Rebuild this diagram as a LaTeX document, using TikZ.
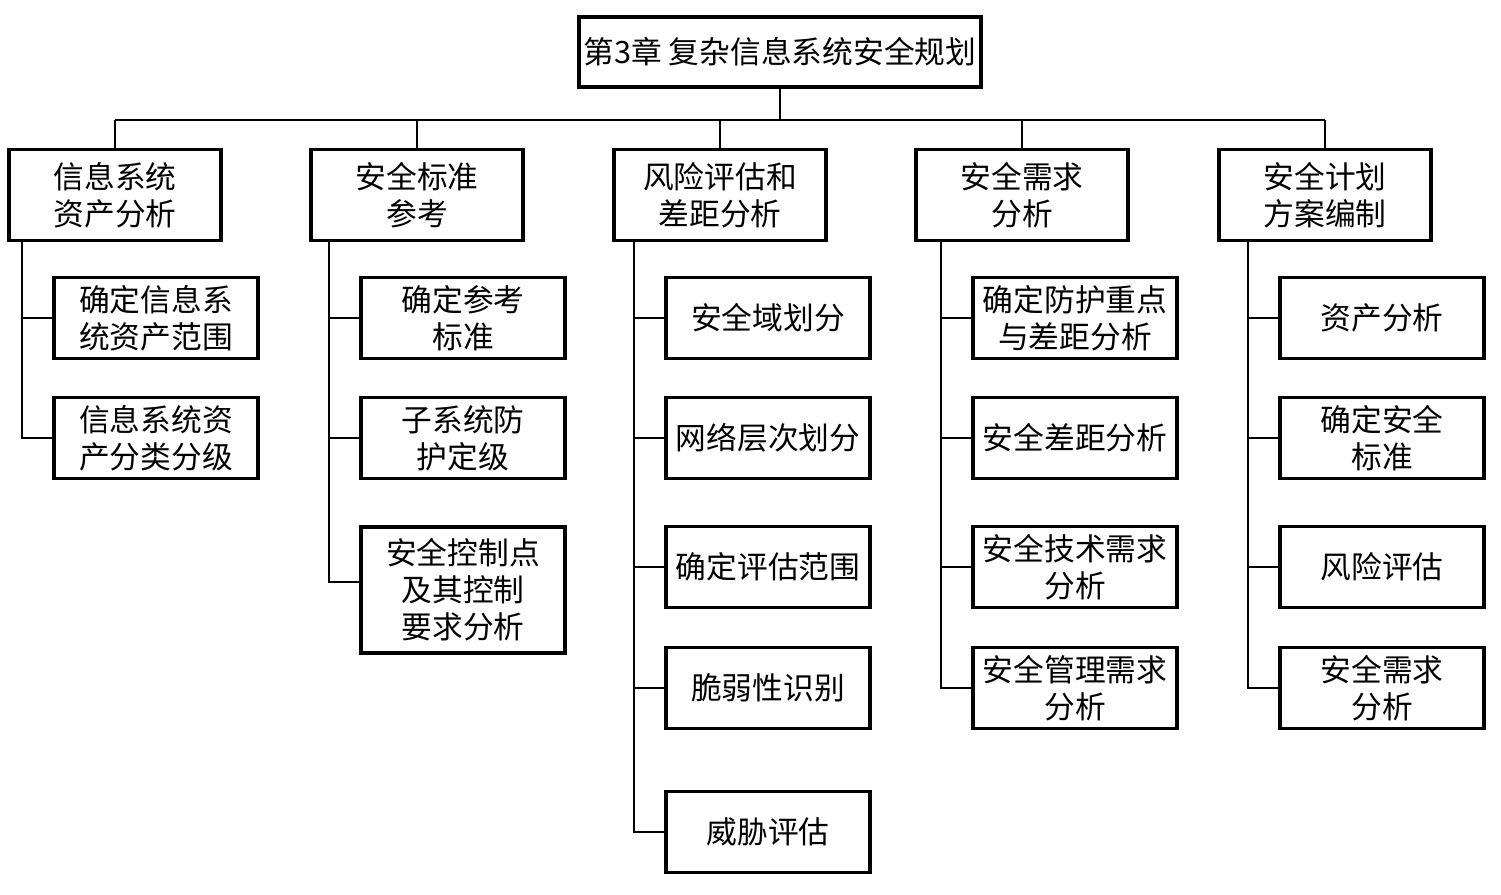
\documentclass[tikz,border=0pt]{standalone}
\usepackage{fontspec}
\setmainfont{Noto Sans CJK SC}
\usepackage{tikz}
\usetikzlibrary{calc}
\tikzset{
  rootbox/.style={draw, line width=2pt, minimum width=8.04cm, minimum height=1.4cm, inner sep=0pt},
  headbox/.style={draw, line width=2pt, minimum width=4.24cm, minimum height=1.82cm, inner sep=0pt, align=center},
  leafbox/.style={draw, line width=2pt, minimum width=4.08cm, minimum height=1.62cm, inner sep=0pt, align=center},
  tallbox/.style={leafbox, minimum height=2.52cm},
  link/.style={line width=1.1pt},
}
\begin{document}
\begin{tikzpicture}[x=0.02cm, y=-0.02cm, font=\fontsize{17.5}{21}\selectfont]
\useasboundingbox (0,0) rectangle (1501,895);

% top
\node[rootbox] (root) at (780,52) {第3章 复杂信息系统安全规划};

% second level
\node[headbox] (A) at (115,195) {信息系统\\资产分析};
\node[headbox] (B) at (417,195) {安全标准\\参考};
\node[headbox] (C) at (720,195) {风险评估和\\差距分析};
\node[headbox] (D) at (1022,195) {安全需求\\分析};
\node[headbox] (E) at (1325,195) {安全计划\\方案编制};

\coordinate (bus) at (780,120);
\draw[link] (root.south) -- (bus);
\draw[link] (bus -| A.north) -- (bus -| E.north);
\foreach \p in {A,B,C,D,E}
  \draw[link] (bus -| \p.north) -- (\p.north);

% leaves
\node[leafbox] (a1) at (156,318) {确定信息系\\统资产范围};
\node[leafbox] (a2) at (156,438) {信息系统资\\产分类分级};

\node[leafbox] (b1) at (463,318) {确定参考\\标准};
\node[leafbox] (b2) at (463,438) {子系统防\\护定级};
\node[tallbox] (b3) at (463,590) {安全控制点\\及其控制\\要求分析};

\node[leafbox] (c1) at (768,318) {安全域划分};
\node[leafbox] (c2) at (768,438) {网络层次划分};
\node[leafbox] (c3) at (768,567) {确定评估范围};
\node[leafbox] (c4) at (768,688) {脆弱性识别};
\node[leafbox] (c5) at (768,832) {威胁评估};

\node[leafbox] (d1) at (1075,318) {确定防护重点\\与差距分析};
\node[leafbox] (d2) at (1075,438) {安全差距分析};
\node[leafbox] (d3) at (1075,567) {安全技术需求\\分析};
\node[leafbox] (d4) at (1075,688) {安全管理需求\\分析};

\node[leafbox] (e1) at (1382,318) {资产分析};
\node[leafbox] (e2) at (1382,438) {确定安全\\标准};
\node[leafbox] (e3) at (1382,567) {风险评估};
\node[leafbox] (e4) at (1382,688) {安全需求\\分析};

% trunks
\foreach \p/\list in {A/{a1,a2}, B/{b1,b2}, C/{c1,c2,c3,c4,c5}, D/{d1,d2,d3,d4}, E/{e1,e2,e3,e4}}
  \foreach \c in \list
    \draw[link] ([xshift=-0.6cm]\c.west |- \p.south) |- (\c.west);
\draw[link] ([xshift=-0.6cm]b3.west |- B.south) |- ([yshift=0.16cm]b3.west);
\end{tikzpicture}
\end{document}
